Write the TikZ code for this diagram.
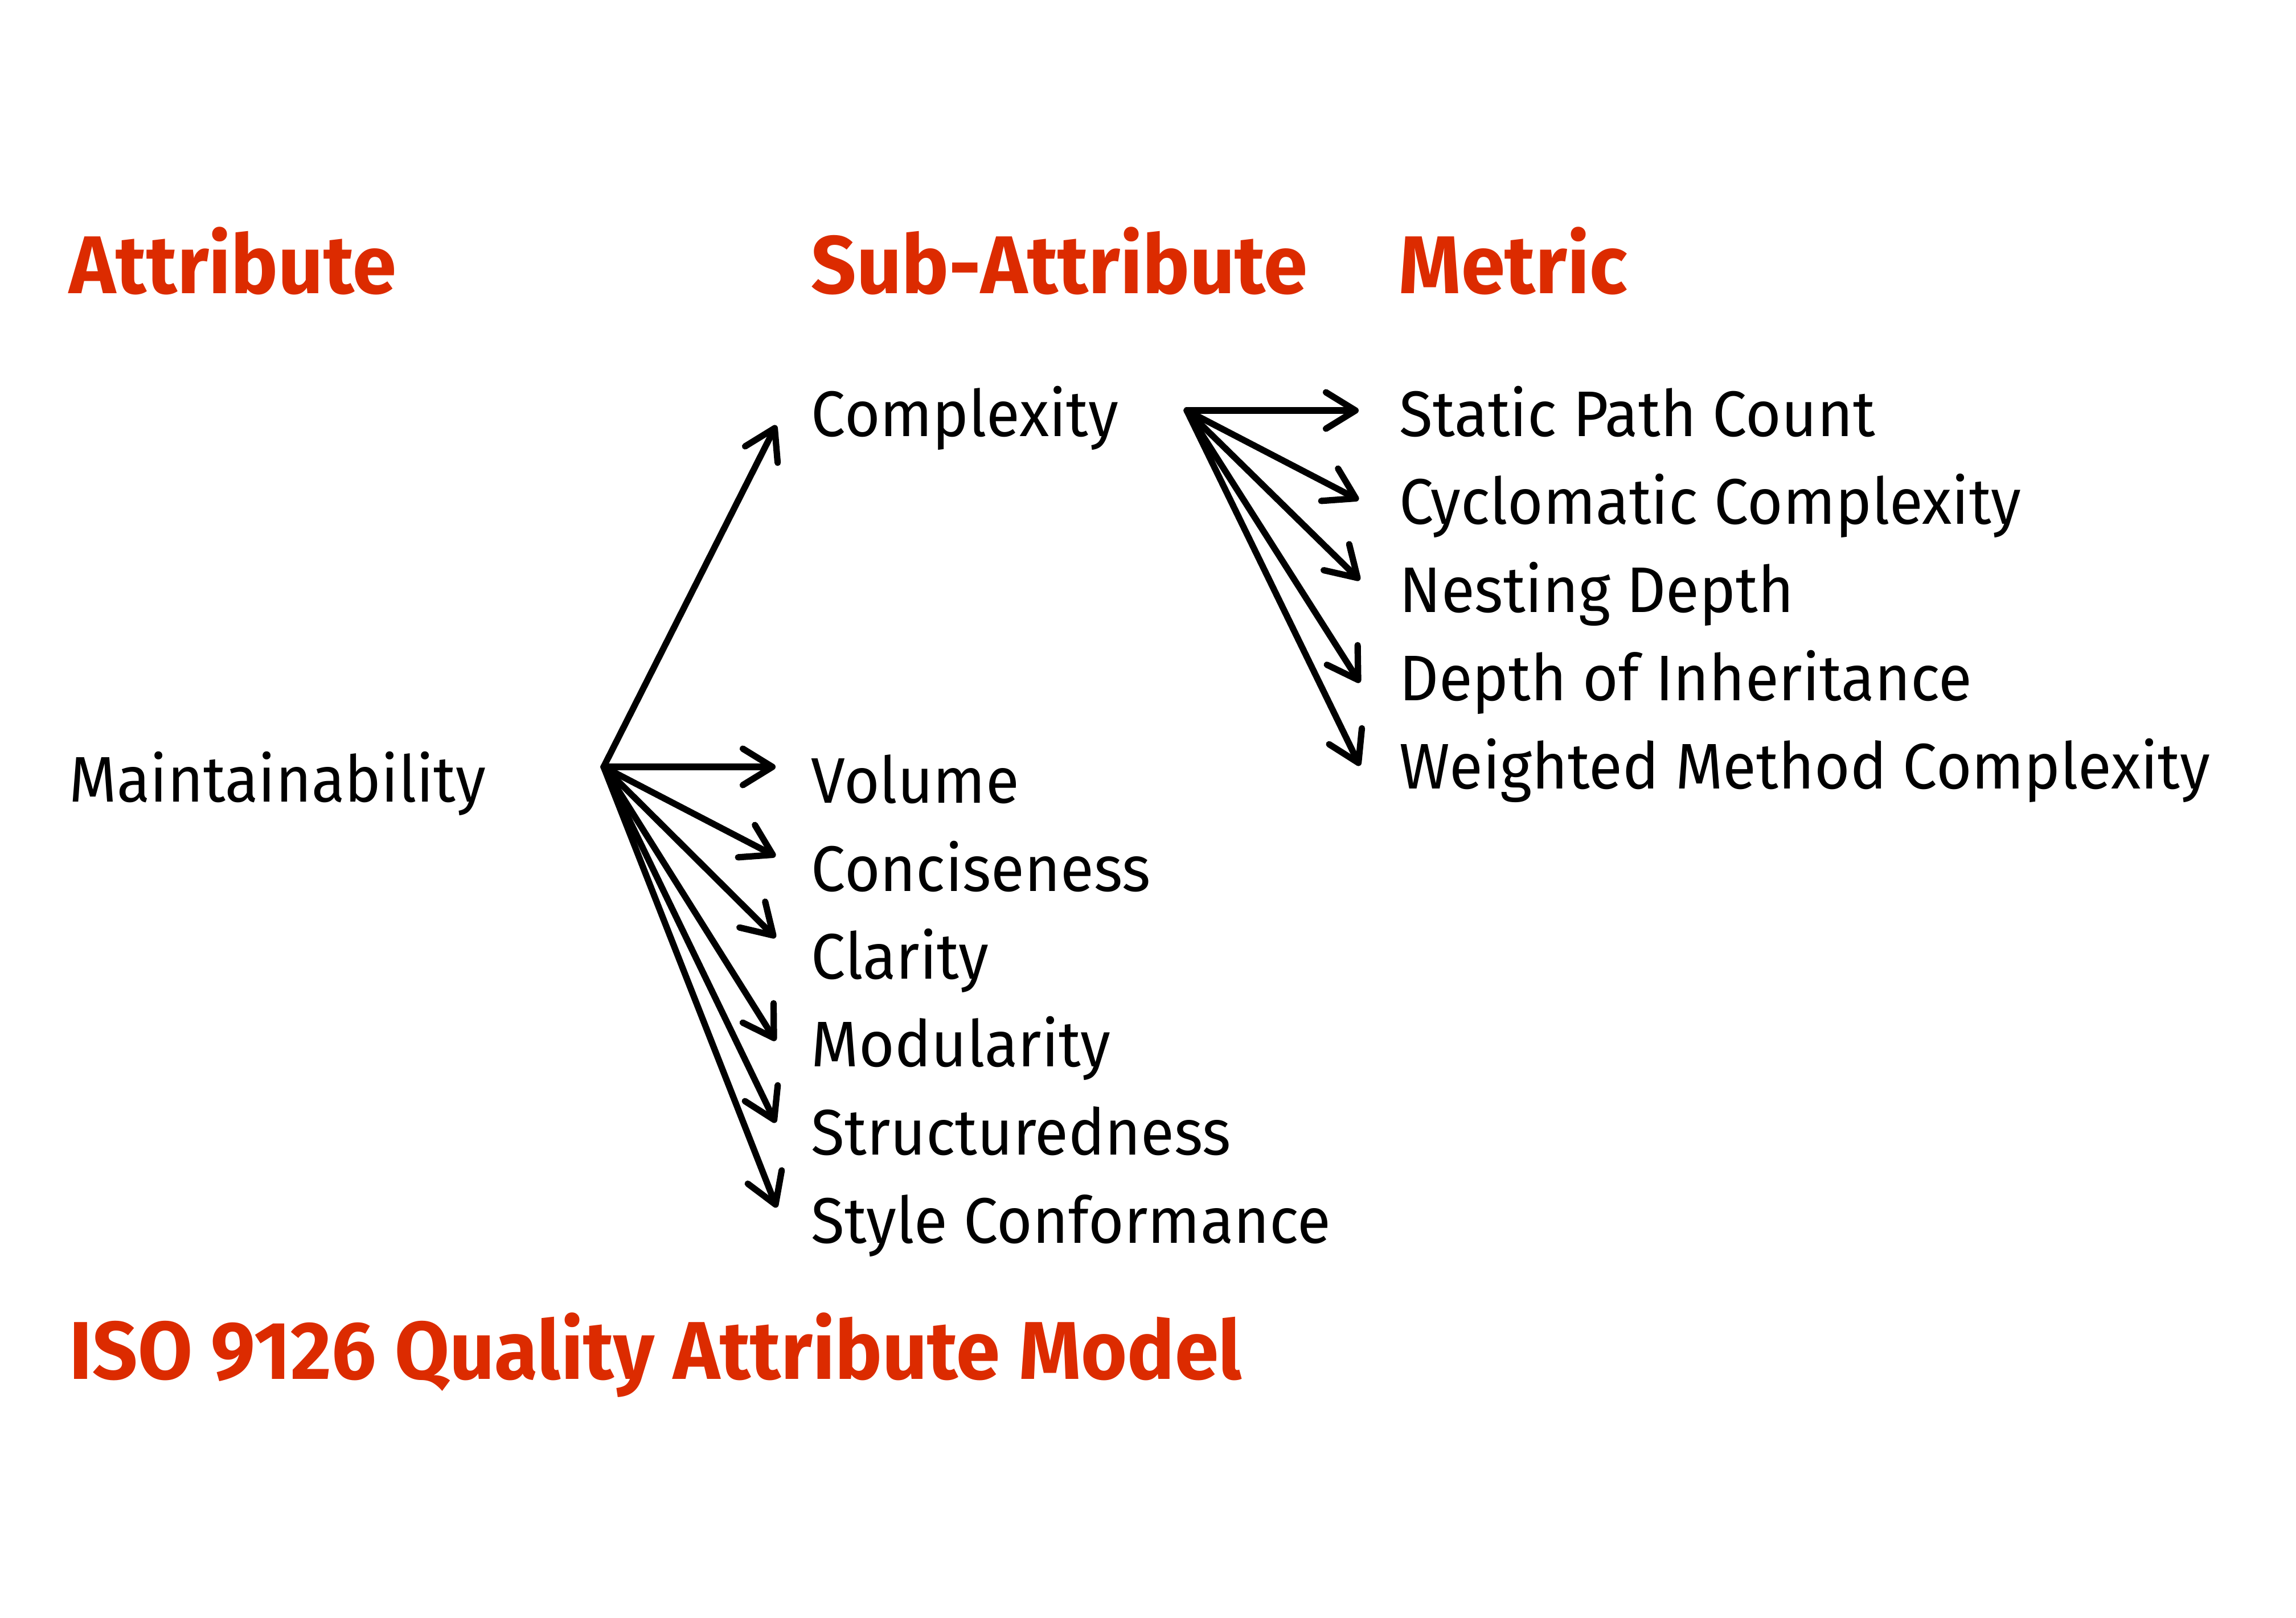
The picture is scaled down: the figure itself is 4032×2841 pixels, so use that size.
\documentclass[tikz,border=0pt]{standalone}
\usepackage{fontspec}
\setmainfont{Fira Sans}
\newfontfamily\lblfont[FakeStretch=0.95]{Fira Sans}
\newfontfamily\hdrfont[FakeStretch=0.965]{Fira Sans}
\usetikzlibrary{arrows.meta}
\definecolor{hdred}{RGB}{220,43,0}
\begin{document}
\begin{tikzpicture}[x=0.25pt,y=-0.25pt,
  lbl/.style={anchor=base west,inner sep=0pt,font=\lblfont\fontsize{28.3pt}{34pt}\selectfont},
  hdr/.style={anchor=base west,inner sep=0pt,text=hdred,font=\hdrfont\fontsize{36pt}{42pt}\selectfont\bfseries},
  arr/.style={line width=2.8pt,line cap=round,-{Straight Barb[length=13pt,width=16pt,line cap=round,line join=round]}}]
\useasboundingbox[fill=white] (0,0) rectangle (4032,2841);
% headings
\node[hdr] (hA) at (121,515) {Attribute};
\node[hdr] (hS) at (1424,515) {Sub-Attribute};
\node[hdr] (hM) at (2456,515) {Metric};
\node[hdr] (title) at (121,2422) {ISO 9126 Quality Attribute Model};
% attribute
\node[lbl] (maint) at (121,1408) {Maintainability};
% sub-attributes
\node[lbl] (cplx) at (1424,766) {Complexity};
\node[lbl] (vol) at (1424,1410) {Volume};
\node[lbl] (conc) at (1424,1565) {Conciseness};
\node[lbl] (clar) at (1424,1719) {Clarity};
\node[lbl] (modu) at (1424,1873) {Modularity};
\node[lbl] (stru) at (1424,2028) {Structuredness};
\node[lbl] (styl) at (1424,2183) {Style Conformance};
% metrics
\node[lbl] (spc) at (2457,766) {Static Path Count};
\node[lbl] (cyc) at (2457,920) {Cyclomatic Complexity};
\node[lbl] (nest) at (2457,1075) {Nesting Depth};
\node[lbl] (dit) at (2457,1230) {Depth of Inheritance};
\node[lbl] (wmc) at (2457,1385) {Weighted Method Complexity};
% arrow origins and tips
\coordinate (mo) at (1060,1347);
\coordinate (co) at (2084,721);
\coordinate (tCplx) at (1363,747);
\coordinate (tVol) at (1362,1347);
\coordinate (tConc) at (1362,1504);
\coordinate (tClar) at (1362,1647);
\coordinate (tModu) at (1362,1828);
\coordinate (tStru) at (1362,1972);
\coordinate (tStyl) at (1364,2121);
\coordinate (tSpc) at (2386,721);
\coordinate (tCyc) at (2386,878);
\coordinate (tNest) at (2388,1019);
\coordinate (tDit) at (2388,1199);
\coordinate (tWmc) at (2388,1345);
\foreach \t in {tCplx,tVol,tConc,tClar,tModu,tStru,tStyl}
  \draw[arr] (mo) -- (\t);
\foreach \t in {tSpc,tCyc,tNest,tDit,tWmc}
  \draw[arr] (co) -- (\t);
\end{tikzpicture}
\end{document}
